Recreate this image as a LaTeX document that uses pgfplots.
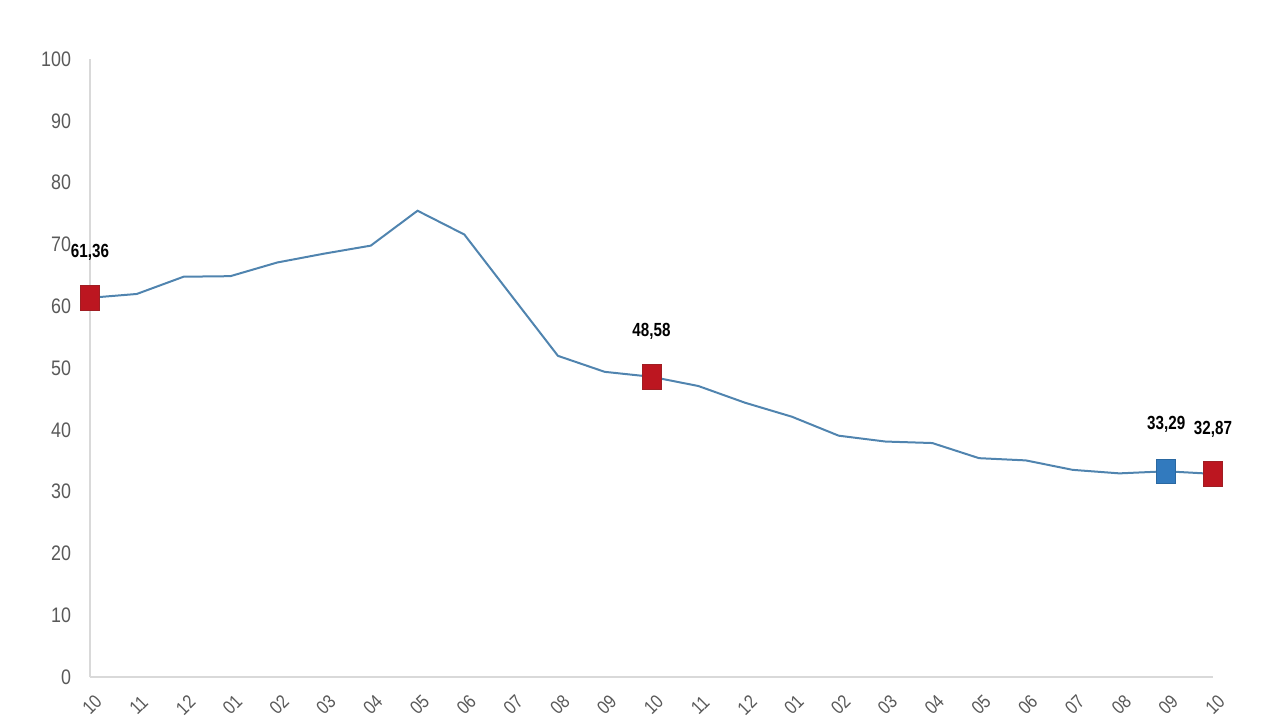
\documentclass[border=0pt]{standalone}
\usepackage{pgfplots}
\pgfplotsset{compat=1.18}
\usepackage{fontspec}
\setmainfont{Liberation Sans}[FakeStretch=0.85]
\newfontfamily\narrowfont{Liberation Sans}[FakeStretch=0.8]
\definecolor{lineblue}{RGB}{80,132,175}
\definecolor{mred}{RGB}{188,22,32}
\definecolor{mredd}{RGB}{160,30,35}
\definecolor{mblue}{RGB}{50,122,190}
\definecolor{tickgray}{RGB}{89,89,89}
\definecolor{axgray}{RGB}{217,217,217}
\pgfplotstableread{
x y
0 61.36
1 61.98
2 64.77
3 64.86
4 67.07
5 68.50
6 69.80
7 75.45
8 71.60
9 61.78
10 51.97
11 49.38
12 48.58
13 47.09
14 44.38
15 42.12
16 39.05
17 38.10
18 37.86
19 35.41
20 35.05
21 33.52
22 32.95
23 33.29
24 32.87
}\maindata
\pgfplotstableread{
x y lab
0 61.36 61,36
12 48.58 48,58
24 32.87 32,87
}\reddata
\pgfplotstableread{
x y lab
23 33.29 33,29
}\bluedata
\begin{document}
\begin{tikzpicture}
\useasboundingbox (0,0) rectangle (640pt,360pt);
\begin{axis}[
  at={(45pt,21.5pt)}, anchor=south west,
  scale only axis, width=561.5pt, height=309pt,
  xmin=0, xmax=24, ymin=0, ymax=100,
  axis x line*=bottom, axis y line*=left,
  axis line style={axgray, line width=0.6pt, -},
  ytick={0,10,...,100},
  xtick={0,...,24},
  xticklabels={10,11,12,01,02,03,04,05,06,07,08,09,10,11,12,01,02,03,04,05,06,07,08,09,10},
  major tick length=0pt,
  /pgf/number format/assume math mode=true,
  yticklabel style={font=\fontsize{10.5}{12}\selectfont, text=tickgray, anchor=east, xshift=-6pt},
  xticklabel style={font=\fontsize{9.5}{11}\selectfont, text=tickgray, yshift=-14pt, xshift=1pt, rotate=45, anchor=center, inner sep=0pt},
  clip=false,
]
\addplot[lineblue, line width=1pt, mark=none] table[x=x,y=y] {\maindata};
\addplot[only marks, mark=square*, mark size=4.75pt, mark options={yscale=1.3, fill=mred, draw=mredd, line width=0.4pt},
  nodes near coords, point meta=explicit symbolic,
  every node near coord/.append style={anchor=center, yshift=22.5pt, font=\narrowfont\bfseries\fontsize{9.5}{11}\selectfont, text=black}]
  table[x=x,y=y,meta=lab] {\reddata};
\addplot[only marks, mark=square*, mark size=4.75pt, mark options={yscale=1.3, fill=mblue, draw=mblue!85!black, line width=0.4pt},
  nodes near coords, point meta=explicit symbolic,
  every node near coord/.append style={anchor=center, yshift=23.5pt, font=\narrowfont\bfseries\fontsize{9.5}{11}\selectfont, text=black}]
  table[x=x,y=y,meta=lab] {\bluedata};
\end{axis}
\end{tikzpicture}
\end{document}
